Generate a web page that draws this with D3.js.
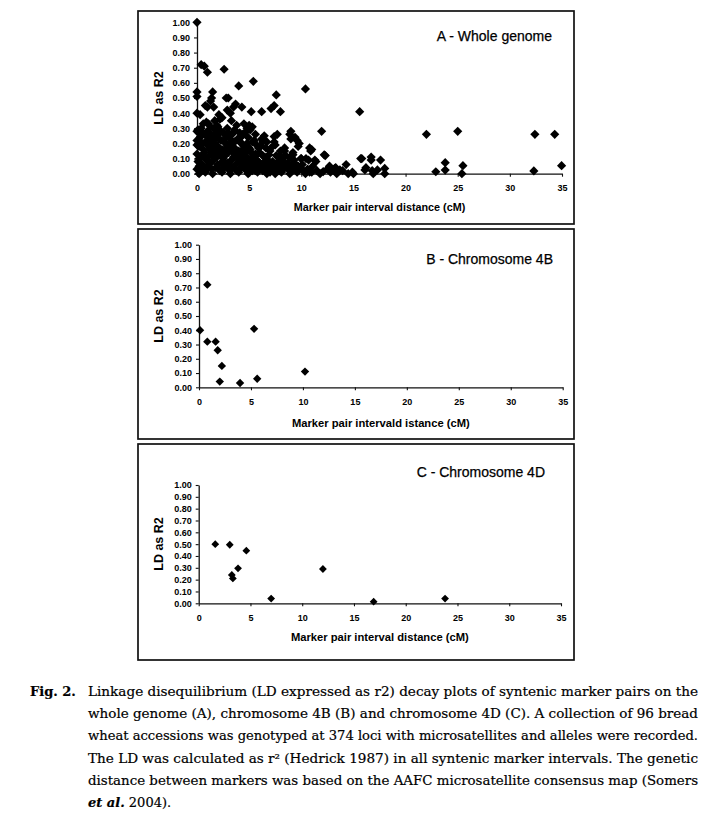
<!DOCTYPE html>
<html>
<head>
<meta charset="utf-8">
<script src="https://cdn.jsdelivr.net/npm/d3@7/dist/d3.min.js"></script>
<style>
  html, body { margin: 0; padding: 0; background: #fff; }
  svg { display: block; }
</style>
</head>
<body>
<svg id="chart" width="724" height="830"></svg>
<script>
// ---------------- DATA ----------------
const xTicks = [0, 5, 10, 15, 20, 25, 30, 35];
const yTicks = [0, 0.1, 0.2, 0.3, 0.4, 0.5, 0.6, 0.7, 0.8, 0.9, 1.0];
const panelTitles = ["A - Whole genome", "B - Chromosome 4B", "C - Chromosome 4D"];
const xAxisTitles = ["Marker pair interval distance (cM)", "Marker pair intervald istance (cM)", "Marker pair interval distance (cM)"];
const yAxisTitle = "LD as R2";

// [distance cM, r2]
const wholeGenome = [
  [0.0,1.00],[0.4,0.72],[0.7,0.71],[1.0,0.67],[2.6,0.69],[4.0,0.58],[5.4,0.61],[7.6,0.52],[10.4,0.56],[15.6,0.41],
  [0.0,0.54],[0.0,0.51],[1.5,0.54],[1.4,0.50],[2.8,0.50],[0.0,0.40],
  [0.8,0.45],[1.0,0.44],[1.3,0.48],[1.6,0.44],[3.0,0.50],[2.9,0.42],[3.5,0.44],[3.7,0.46],[4.3,0.44],[5.2,0.41],[6.2,0.41],[7.1,0.43],[7.4,0.45],[8.0,0.41],
  [2.1,0.39],[3.2,0.40],[0.3,0.39],[2.4,0.37],[3.3,0.35],[0.6,0.33],[1.3,0.31],[1.9,0.32],[3.8,0.32],[4.5,0.33],[5.0,0.32],[5.3,0.31],[2.9,0.30],[0.9,0.34],[1.1,0.33],
  [0.0,0.28],[0.45,0.26],[2.5,0.27],[3.5,0.27],[4.2,0.24],[5.1,0.29],[5.6,0.26],[7.7,0.26],[9.0,0.28],[8.9,0.26],[9.4,0.24],[9.0,0.23],[9.8,0.20],[6.7,0.21],[7.5,0.19],[8.0,0.15],[6.3,0.12],[5.1,0.16],
  [11.95,0.28],[9.7,0.18],[9.6,0.22],[10.8,0.17],[10.9,0.15],[11.0,0.16],[12.2,0.125],[12.3,0.12],[9.2,0.125],[8.4,0.15],[10.0,0.10],[10.45,0.10],[10.7,0.09],[11.3,0.09],[11.4,0.08],[11.1,0.05],[12.7,0.05],[13.3,0.04],[14.3,0.06],
  [15.8,0.10],[16.7,0.11],[16.7,0.09],[17.6,0.09],[18.0,0.035],[17.3,0.025],[13.7,0.025],[13.2,0.035],[12.75,0.045],[12.1,0.014],[14.5,0.0],[15.0,0.0],[16.1,0.025],[16.9,0.0],[18.0,0.0],[13.96,0.02],[14.9,0.01],[16.2,0.04],[16.8,0.02],[15.7,0.10],
  [22.0,0.26],[25.0,0.28],[32.4,0.26],[34.3,0.26],[23.8,0.073],[23.8,0.024],[22.9,0.013],[25.5,0.053],[25.4,0.0],[32.3,0.018],[34.96,0.053],
  [7.4,0.245],[7.1,0.17],[6.9,0.125],[6.3,0.21],[6.45,0.25],[6.1,0.18],[5.3,0.21],[5.0,0.17],[5.2,0.14],[5.7,0.09],[7.25,0.08],[8.2,0.07],[8.7,0.06],[9.2,0.04],[7.7,0.04],[9.97,0.10],
  [0.1,0.29],[0.5,0.27],[1.0,0.28],[1.3,0.26],[1.7,0.29],[2.1,0.27],[3.6,0.29],[4.1,0.27],[4.7,0.28],[3.3,0.26],
  [0.0,0.22],[0.3,0.24],[0.8,0.21],[1.1,0.24],[1.5,0.22],[1.9,0.25],[2.3,0.22],[2.8,0.24],[3.4,0.21],[3.9,0.23],[4.3,0.20],[4.9,0.24],[5.5,0.22],[6.2,0.23],[7.4,0.21],[1.7,0.20],[2.6,0.21],
  [0.2,0.18],[0.6,0.16],[1.0,0.19],[1.4,0.17],[2.0,0.18],[2.4,0.16],[3.1,0.19],[3.6,0.17],[4.0,0.15],[4.5,0.18],[5.9,0.17],[7.0,0.15],[8.4,0.17],[0.0,0.19],[1.8,0.15],[2.8,0.17],[3.3,0.15],
  [0.0,0.13],[0.4,0.11],[0.7,0.14],[1.2,0.12],[1.5,0.14],[1.9,0.11],[2.2,0.13],[2.7,0.12],[3.0,0.14],[3.5,0.11],[3.8,0.13],[4.3,0.12],[4.8,0.11],[5.8,0.13],[6.5,0.11],[8.0,0.12],[8.9,0.11],[9.2,0.14],[0.2,0.10],[2.5,0.10],[4.6,0.14],
  [0.1,0.08],[0.5,0.06],[0.9,0.09],[1.3,0.07],[1.6,0.09],[2.0,0.06],[2.5,0.08],[2.9,0.07],[3.3,0.09],[3.7,0.06],[4.1,0.08],[4.6,0.07],[5.0,0.09],[5.5,0.06],[5.9,0.08],[6.4,0.07],[7.2,0.06],[7.8,0.08],[8.2,0.09],[8.7,0.07],[9.5,0.06],[6.8,0.09],[3.9,0.10],
  [0.0,0.03],[0.3,0.04],[0.7,0.02],[1.1,0.04],[1.4,0.03],[1.8,0.04],[2.2,0.02],[2.6,0.04],[3.0,0.03],[3.4,0.04],[3.8,0.02],[4.2,0.04],[4.6,0.03],[5.1,0.04],[5.6,0.02],[6.0,0.04],[6.5,0.03],[6.9,0.04],[7.3,0.02],[8.3,0.03],[8.6,0.04],[9.0,0.02],[9.4,0.03],[9.9,0.04],[10.2,0.02],[10.6,0.03],[11.5,0.02],[12.5,0.03],
  [0.2,0.0],[0.8,0.01],[1.5,0.0],[2.4,0.01],[3.2,0.0],[4.0,0.01],[4.9,0.0],[5.8,0.01],[6.7,0.0],[7.5,0.0],[8.1,0.01],[8.9,0.0],[9.6,0.01],[10.4,0.0],[11.0,0.01],[11.8,0.0],[12.8,0.01],[13.4,0.0],
  [0.2,0.05],[0.6,0.12],[1.0,0.05],[1.2,0.16],[1.6,0.12],[2.0,0.14],[2.3,0.07],[2.7,0.15],[3.1,0.05],[3.5,0.14],[3.6,0.21],[4.0,0.11],[4.4,0.05],[4.4,0.16],[4.8,0.20],
  [5.3,0.07],[5.4,0.11],[6.0,0.14],[6.2,0.06],[6.6,0.17],[7.6,0.12],[7.9,0.02],[8.5,0.12],[9.3,0.09],[0.5,0.20],[1.3,0.21],[2.1,0.23],[2.9,0.19],[3.2,0.23],[4.1,0.21],
  [5.7,0.19],[0.9,0.25],[2.3,0.28],[3.0,0.27],[4.4,0.26],[1.6,0.25],[2.0,0.31],[4.8,0.30],[1.7,0.35],[0.4,0.30],[2.2,0.36],
  [5.3,0.02],[5.9,0.05],[6.3,0.02],[6.7,0.06],[7.0,0.01],[7.5,0.05],[8.0,0.05],[8.4,0.06],[8.8,0.03],[9.2,0.07],[9.7,0.05],[10.1,0.06],[10.8,0.01],[4.4,0.09],[4.9,0.05],[5.6,0.13]
];

const chromosome4B = [
  [0.1,0.40],[0.8,0.72],[0.8,0.32],[1.6,0.32],[1.8,0.26],[2.2,0.15],[2.0,0.04],[3.95,0.03],[5.3,0.41],[5.6,0.06],[10.2,0.11]
];

const chromosome4D = [
  [1.6,0.50],[3.0,0.495],[4.6,0.445],[3.8,0.296],[3.2,0.24],[3.3,0.21],[7.0,0.04],[12.0,0.29],[16.9,0.014],[23.8,0.04]
];

const captionLines = [
  "Linkage disequilibrium (LD expressed as r2) decay plots of syntenic marker pairs on the",
  "whole genome (A), chromosome 4B (B) and chromosome 4D (C).  A collection of 96 bread",
  "wheat accessions was genotyped at 374 loci with microsatellites and alleles were recorded.",
  "The LD was calculated as r\u00B2 (Hedrick 1987) in all syntenic marker intervals.  The genetic",
  "distance between markers was based on the AAFC microsatellite consensus map (Somers"
];

// ---------------- DRAWING ----------------
const svg = d3.select("#chart");
svg.append("rect").attr("width", 724).attr("height", 830).attr("fill", "#fff");

const panels = [
  { data: wholeGenome, box: [138, 11, 574, 224], xr: [197, 562], yr: [173.7, 22.3], half: 4.6,
    titleX: 552, titleY: 41, titleSize: 14, xlabY: 211, xlabSize: 10.8, ylab: [159, 98] },
  { data: chromosome4B, box: [138, 229, 574, 439], xr: [199, 562.7], yr: [387.3, 244.7], half: 4.2,
    titleX: 553, titleY: 263.5, titleSize: 14, xlabY: 427, xlabSize: 11.2, ylab: [159, 316] },
  { data: chromosome4D, box: [138, 444, 574, 660], xr: [198.7, 561], yr: [603.3, 485], half: 3.9,
    titleX: 545, titleY: 477, titleSize: 14, xlabY: 641, xlabSize: 11.2, ylab: [159, 544] }
];

const sans = "'Liberation Sans', Arial, Helvetica, sans-serif";

panels.forEach((p, i) => {
  const g = svg.append("g");
  const [bx0, by0, bx1, by1] = p.box;
  g.append("rect").attr("x", bx0).attr("y", by0).attr("width", bx1 - bx0).attr("height", by1 - by0)
    .attr("fill", "#fff").attr("stroke", "#111").attr("stroke-width", 1.7);

  const x = d3.scaleLinear().domain([0, 35]).range(p.xr);
  const y = d3.scaleLinear().domain([0, 1]).range(p.yr);

  const yAxis = d3.axisLeft(y).tickValues(yTicks).tickFormat(d3.format(".2f")).tickSize(3).tickSizeOuter(0).tickPadding(4);
  const xAxis = d3.axisBottom(x).tickValues(xTicks).tickFormat(d3.format("d")).tickSize(3).tickSizeOuter(0).tickPadding(8);

  const ya = g.append("g").attr("transform", `translate(${p.xr[0]},0)`).call(yAxis);
  const xa = g.append("g").attr("transform", `translate(0,${p.yr[0]})`).call(xAxis);
  [ya, xa].forEach(a => {
    a.select(".domain").attr("stroke", "#111").attr("stroke-width", 1.3);
    a.selectAll(".tick line").attr("stroke", "#111").attr("stroke-width", 1.1);
    a.selectAll(".tick text").attr("fill", "#000").style("font-family", sans)
      .style("font-weight", "bold").style("font-size", "9px");
  });

  // markers
  g.append("g").selectAll("path").data(p.data).join("path")
    .attr("d", d => {
      const cx = x(d[0]), cy = y(d[1]), h = p.half;
      return `M${cx},${cy - h}L${cx + h},${cy}L${cx},${cy + h}L${cx - h},${cy}Z`;
    })
    .attr("fill", "#000");

  // title
  g.append("text").attr("x", p.titleX).attr("y", p.titleY).attr("text-anchor", "end")
    .style("font-family", sans).style("font-size", p.titleSize + "px").attr("fill", "#000")
    .attr("stroke", "#000").attr("stroke-width", 0.25)
    .text(panelTitles[i]);

  // x axis title
  g.append("text").attr("x", (p.xr[0] + p.xr[1]) / 2).attr("y", p.xlabY).attr("text-anchor", "middle")
    .style("font-family", sans).style("font-weight", "bold").style("font-size", p.xlabSize + "px")
    .attr("fill", "#000").text(xAxisTitles[i]);

  // y axis title
  g.append("text").attr("transform", `translate(${p.ylab[0]},${p.ylab[1]}) rotate(-90)`)
    .attr("text-anchor", "middle").attr("dy", "0.35em")
    .style("font-family", sans).style("font-weight", "bold").style("font-size", "12.5px")
    .attr("fill", "#000").text(yAxisTitle);
});

// ---------------- CAPTION ----------------
const serif = "'DejaVu Serif', 'Liberation Serif', serif";
const cap = svg.append("g").style("font-family", serif).style("font-size", "13px")
  .attr("fill", "#000").attr("stroke", "#000").attr("stroke-width", 0.2);
const capY0 = 696, capDy = 22.2, capX = 88, capW = 610;

cap.append("text").attr("x", 30).attr("y", capY0).style("font-weight", "bold").text("Fig. 2.");
captionLines.forEach((line, i) => {
  cap.append("text").attr("x", capX).attr("y", capY0 + i * capDy)
    .attr("textLength", capW).attr("lengthAdjust", "spacingAndGlyphs").text(line);
});
const last = cap.append("text").attr("x", capX).attr("y", capY0 + 5 * capDy);
last.append("tspan").style("font-style", "italic").style("font-weight", "bold").text("et al.");
last.append("tspan").text(" 2004).");
</script>
</body>
</html>
